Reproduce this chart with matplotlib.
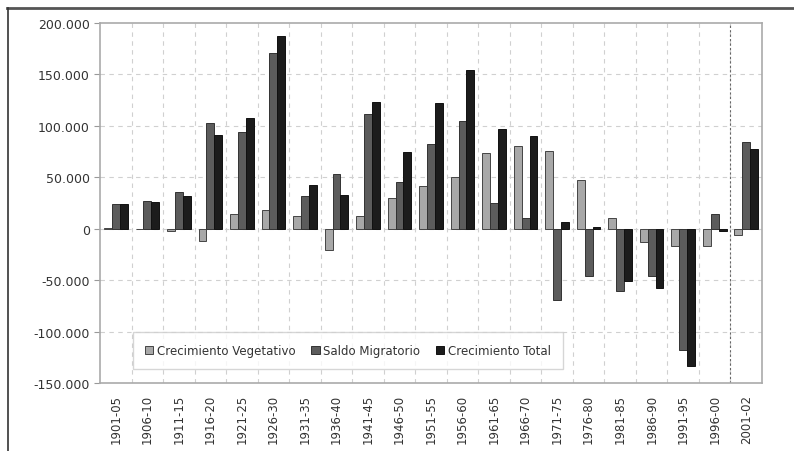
import numpy as np
import matplotlib.pyplot as plt
from matplotlib.lines import Line2D
from matplotlib.ticker import FuncFormatter

periodos = ['1901-05', '1906-10', '1911-15', '1916-20', '1921-25', '1926-30',
            '1931-35', '1936-40', '1941-45', '1946-50', '1951-55', '1956-60',
            '1961-65', '1966-70', '1971-75', '1976-80', '1981-85', '1986-90',
            '1991-95', '1996-00', '2001-02']
vegetativo = [1000, 0, -2500, -11700, 14300, 18200, 12600, -20700, 12600, 29800,
              41500, 50600, 73300, 80400, 75800, 47300, 10700, -12600, -17100,
              -17100, -5800]
migratorio = [24000, 27000, 35400, 103000, 94300, 170500, 32100, 53200, 111800,
              45700, 82300, 104700, 25300, 10400, -69600, -45700, -60900, -46300,
              -117900, 14300, 84000]
total = [24000, 25700, 32100, 91400, 107300, 187300, 42800, 32500, 123500, 74300,
         122200, 154600, 97200, 89800, 6200, 1600, -50500, -58000, -133500,
         -2600, 77500]

fig = plt.figure(figsize=(7.94, 4.52), dpi=100)
ax = fig.add_axes([0.126, 0.1504, 0.8337, 0.7965])

x = np.arange(len(periodos))
w = 0.25
ax.bar(x - w, vegetativo, w, color='#a8a8a8', edgecolor='#444444', linewidth=0.7,
       label='Crecimiento Vegetativo', zorder=3)
ax.bar(x, migratorio, w, color='#5c5c5c', edgecolor='#333333', linewidth=0.7,
       label='Saldo Migratorio', zorder=3)
ax.bar(x + w, total, w, color='#1c1c1c', edgecolor='#111111', linewidth=0.7,
       label='Crecimiento Total', zorder=3)

ax.set_xlim(-0.5, len(periodos) - 0.5)
ax.set_ylim(-150000, 200000)
ax.set_yticks(np.arange(-150000, 200001, 50000))
ax.yaxis.set_major_formatter(FuncFormatter(lambda v, p: f'{int(v):,}'.replace(',', '.')))
ax.set_xticks(x)
ax.set_xticklabels(periodos, rotation=90, fontsize=8.5, color='#333333')
ax.tick_params(axis='y', labelsize=9, colors='#333333', length=4, color='#999999')
ax.tick_params(axis='x', length=0, pad=8)

# dashed grid on category boundaries
for b in np.arange(0.5, len(periodos) - 1, 1):
    ax.axvline(b, color='#d0d0d0', ls=(0, (4, 4)), lw=0.8, zorder=1)
for yv in np.arange(-100000, 200000, 50000):
    ax.axhline(yv, color='#d0d0d0', ls=(0, (4, 4)), lw=0.8, zorder=1)
ax.axvline(len(periodos) - 1.5, color='#666666', ls=(0, (2, 2)), lw=0.8, zorder=2)

for s in ax.spines.values():
    s.set_color('#aaaaaa')
    s.set_linewidth(1.2)

leg = ax.legend(loc='lower left', bbox_to_anchor=(0.05, 0.039), borderaxespad=0,
                ncol=3, fontsize=8.5,
                frameon=True, fancybox=False, edgecolor='#cccccc',
                handlelength=0.7, handleheight=0.7, handletextpad=0.3,
                columnspacing=1.35, borderpad=1.0)
for t in leg.get_texts():
    t.set_color('#333333')

# outer frame
fig.add_artist(Line2D([7 / 794, 1], [1 - 8.5 / 452, 1 - 8.5 / 452],
                      transform=fig.transFigure, color='#555555', lw=2))
fig.add_artist(Line2D([7.5 / 794, 7.5 / 794], [0, 1 - 8.5 / 452],
                      transform=fig.transFigure, color='#333333', lw=1.2))

fig.savefig('out.png', dpi=100)
